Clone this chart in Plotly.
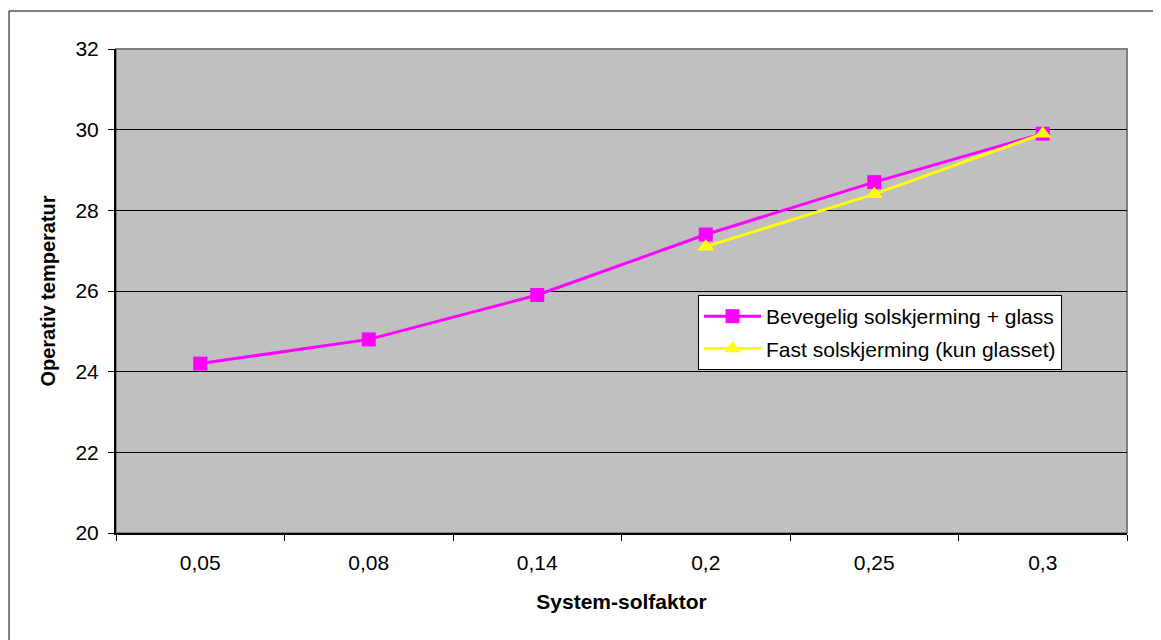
import plotly.graph_objects as go

categories = ["0,05", "0,08", "0,14", "0,2", "0,25", "0,3"]
bevegelig = [24.2, 24.8, 25.9, 27.4, 28.7, 29.9]
fast = [None, None, None, 27.1, 28.4, 29.9]
y_ticks = [20, 22, 24, 26, 28, 30, 32]

FONT = "Liberation Sans, Arial, sans-serif"

fig = go.Figure()
fig.add_trace(go.Scatter(
    x=categories, y=bevegelig, mode="lines+markers",
    name="Bevegelig solskjerming + glass",
    line=dict(color="#FF00FF", width=3),
    marker=dict(symbol="square", size=14, color="#FF00FF"),
    legendgroup="a",
))
fig.add_trace(go.Scatter(
    x=categories, y=fast, mode="lines+markers",
    name="Fast solskjerming (kun glasset)",
    line=dict(color="#FFFF00", width=3),
    marker=dict(symbol="triangle-up", size=15, color="#FFFF00"),
    legendgroup="b", connectgaps=False,
))

fig.update_layout(
    width=1161, height=640,
    margin=dict(l=108, r=42, t=41, b=115),
    paper_bgcolor="white",
    plot_bgcolor="#C0C0C0",
    font=dict(family=FONT, size=21, color="black"),
    showlegend=True,
    legend=dict(
        x=0.5757, y=0.4917, xanchor="left", yanchor="top",
        bgcolor="white", bordercolor="black", borderwidth=1,
        font=dict(family=FONT, size=21, color="black"),
        tracegroupgap=2, traceorder="grouped", itemwidth=57,
    ),
    shapes=[
        dict(type="rect", xref="paper", yref="paper", x0=0, x1=1, y0=0, y1=1,
             line=dict(color="#808080", width=2), fillcolor="rgba(0,0,0,0)", layer="between"),
        dict(type="rect", xref="paper", yref="paper", x0=-0.1058, x1=1.06, y0=-0.3, y1=1.0785,
             line=dict(color="black", width=1), fillcolor="rgba(0,0,0,0)", layer="above"),
    ],
)

fig.update_xaxes(
    type="category", categoryorder="array", categoryarray=categories,
    range=[-0.5, 5.5],
    showline=True, linecolor="black", linewidth=2,
    ticks="outside", tickson="boundaries", ticklen=6, tickcolor="black", tickwidth=1,
    ticklabelstandoff=10,
    showgrid=False,
    tickfont=dict(family=FONT, size=21),
    title=dict(text="<b>System-solfaktor</b>", font=dict(family=FONT, size=21), standoff=21),
)
fig.update_yaxes(
    range=[20, 32], tickvals=y_ticks,
    showline=True, linecolor="black", linewidth=2,
    ticks="outside", ticklen=6, tickcolor="black", tickwidth=1,
    ticklabelstandoff=5,
    showgrid=True, gridcolor="black", gridwidth=1,
    zeroline=False,
    tickfont=dict(family=FONT, size=21),
    title=dict(text="<b>Operativ temperatur</b>", font=dict(family=FONT, size=20), standoff=14),
)

fig.write_html("out.html")
